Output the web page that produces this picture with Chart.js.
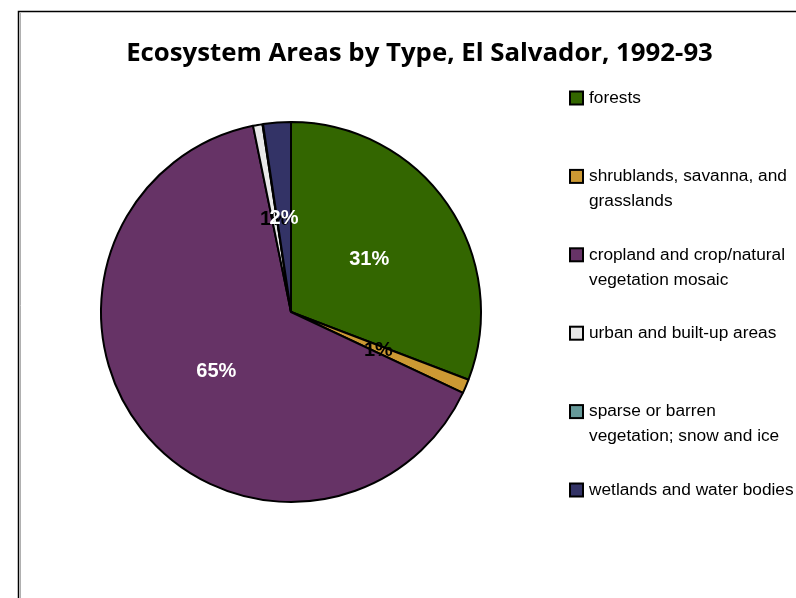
<!DOCTYPE html>
<html lang="en">
<head>
  <meta charset="UTF-8" />
  <title>Ecosystem Areas by Type, El Salvador, 1992-93</title>
  <script src="https://cdn.jsdelivr.net/npm/chart.js"></script>
  <style>
    body {
      margin: 0;
      background: #ffffff;
      overflow: hidden;
    }
    #wrap {
      position: relative;
      width: 796px;
      height: 598px;
    }
  </style>
</head>
<body>
  <div id="wrap">
    <canvas id="pieChart" width="796" height="598"></canvas>
  </div>

  <script>
    const chartTitle = 'Ecosystem Areas by Type, El Salvador, 1992-93';

    // legend text, one array of lines per category
    const categories = [
      ['forests'],
      ['shrublands, savanna, and', 'grasslands'],
      ['cropland and crop/natural', 'vegetation mosaic'],
      ['urban and built-up areas'],
      ['sparse or barren', 'vegetation; snow and ice'],
      ['wetlands and water bodies']
    ];

    // share of total area, percent
    const shares = [30.8, 1.2, 64.8, 0.8, 0.05, 2.35];

    const sliceColors = ['#336600', '#cc9933', '#663366', '#e8e8e8', '#669999', '#333366'];
    const labelColors = ['#ffffff', '#000000', '#ffffff', '#000000', '#000000', '#ffffff'];

    const LABEL_FONT = 'bold 20px "Liberation Sans", Arial, sans-serif';
    const LEGEND_FONT = '17.3px "Liberation Sans", Arial, sans-serif';
    const TITLE_FONT_FAMILY = '"Open Sans", "DejaVu Sans", sans-serif';

    // frame, title and legend drawn by hand around the pie
    const decorPlugin = {
      id: 'decor',
      beforeDraw(chart) {
        const ctx = chart.ctx;
        ctx.save();
        ctx.fillStyle = '#ffffff';
        ctx.fillRect(0, 0, chart.width, chart.height);

        ctx.strokeStyle = '#000000';
        ctx.lineWidth = 1.5;
        ctx.beginPath();
        ctx.moveTo(18.5, chart.height);
        ctx.lineTo(18.5, 11.5);
        ctx.lineTo(chart.width, 11.5);
        ctx.stroke();
        ctx.strokeStyle = '#b0b0b0';
        ctx.lineWidth = 1;
        ctx.beginPath();
        ctx.moveTo(20.5, chart.height);
        ctx.lineTo(20.5, 13);
        ctx.stroke();

        // title, sized to the width it takes in the reference
        let size = 22;
        ctx.font = `bold ${size}px ${TITLE_FONT_FAMILY}`;
        size = size * 587 / ctx.measureText(chartTitle).width;
        ctx.font = `bold ${size.toFixed(2)}px ${TITLE_FONT_FAMILY}`;
        ctx.fillStyle = '#000000';
        ctx.textAlign = 'center';
        ctx.textBaseline = 'alphabetic';
        ctx.fillText(chartTitle, 419.5, 61);
        ctx.restore();
      },
      afterDraw(chart) {
        const ctx = chart.ctx;
        ctx.save();

        // percent labels at half radius
        const meta = chart.getDatasetMeta(0);
        const total = shares.reduce((a, b) => a + b, 0);
        ctx.font = LABEL_FONT;
        ctx.textAlign = 'center';
        ctx.textBaseline = 'middle';
        meta.data.forEach((arc, i) => {
          const pct = Math.round(shares[i] / total * 100);
          if (pct < 1) return;
          const p = arc.getCenterPoint();
          ctx.fillStyle = labelColors[i];
          ctx.fillText(pct + '%', p.x, p.y + 1);
        });

        // legend
        const boxX = 570, boxSize = 13, textX = 589;
        const firstY = 98, step = 78.4, lineH = 25;
        ctx.font = LEGEND_FONT;
        ctx.textAlign = 'left';
        categories.forEach((lines, i) => {
          const y = firstY + i * step;
          ctx.fillStyle = sliceColors[i];
          ctx.fillRect(boxX, y - boxSize / 2, boxSize, boxSize);
          ctx.strokeStyle = '#000000';
          ctx.lineWidth = 2;
          ctx.strokeRect(boxX, y - boxSize / 2, boxSize, boxSize);
          ctx.fillStyle = '#000000';
          lines.forEach((line, j) => {
            ctx.fillText(line, textX, y + j * lineH);
          });
        });
        ctx.restore();
      }
    };

    const pieChart = new Chart(document.getElementById('pieChart'), {
      type: 'pie',
      data: {
        labels: categories.map(lines => lines.join(' ')),
        datasets: [{
          data: shares,
          backgroundColor: sliceColors,
          borderColor: '#000000',
          borderWidth: 2
        }]
      },
      options: {
        responsive: false,
        animation: false,
        devicePixelRatio: 1,
        layout: {
          padding: { left: 100, top: 121, right: 314, bottom: 95 }
        },
        plugins: {
          legend: { display: false },
          title: { display: false },
          tooltip: { enabled: false }
        }
      },
      plugins: [decorPlugin]
    });
  </script>
</body>
</html>
